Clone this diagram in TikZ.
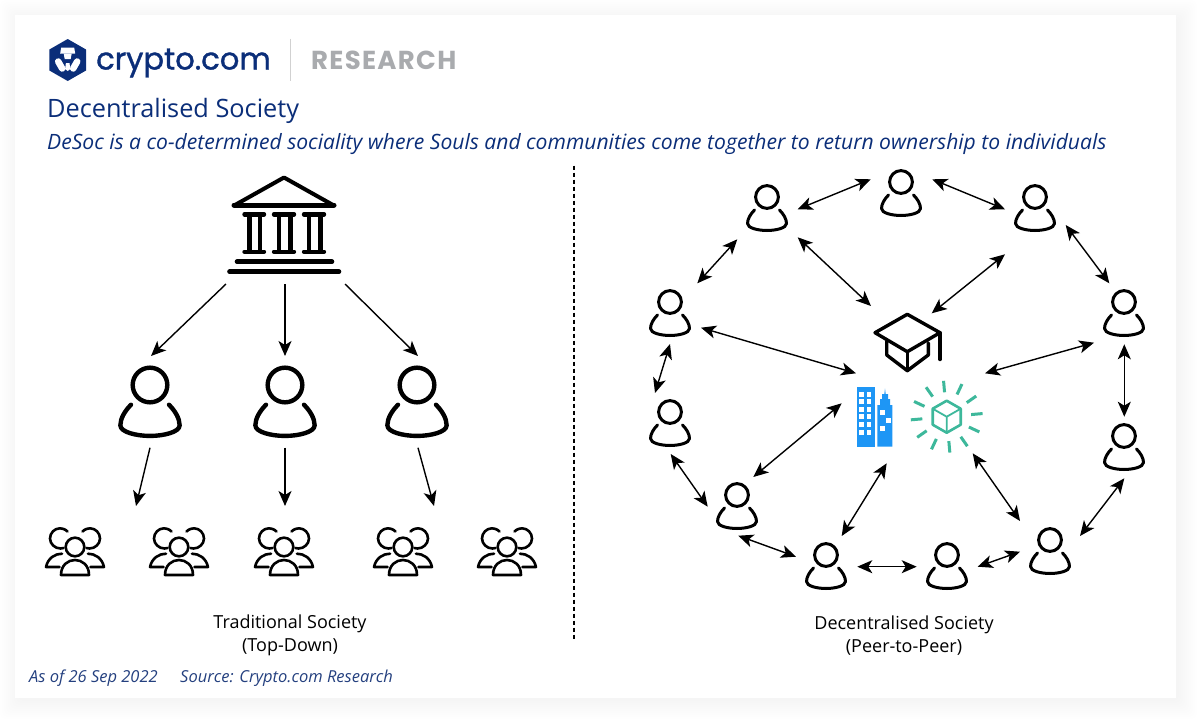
\documentclass[tikz,border=0pt]{standalone}
\usepackage{fontspec}
\usetikzlibrary{arrows.meta}
\setmainfont{Open Sans}
\newfontfamily\logofont[FakeBold=1.2]{Poppins}
\newfontfamily\resfont[LetterSpace=5]{Poppins}
\definecolor{navy}{HTML}{0B2E79}
\definecolor{footnavy}{HTML}{24407F}
\definecolor{resgray}{HTML}{A9ABAE}
\definecolor{towerblue}{HTML}{1E96F5}
\definecolor{hashteal}{HTML}{3DB89B}
\tikzset{
  dbl/.style={line width=1.4pt,{Stealth[length=15pt,width=13pt,inset=4pt]}-{Stealth[length=15pt,width=13pt,inset=4pt]}},
  one/.style={line width=1.4pt,-{Stealth[length=15pt,width=13pt,inset=4pt]}},
  anchorbox/.style={inner sep=0pt,minimum size=1pt},
  icon/.style={line cap=round,line join=round,draw=black},
  caption/.style={font=\fontsize{18}{23}\selectfont,align=center,text=black,inner sep=0pt},
  foot/.style={font=\fontsize{16.5}{18}\selectfont\itshape,text=footnavy,anchor=west,inner sep=0pt},
  window/.style={fill=white,draw=none},
}
% head centre at x,y ; s = scale ; lw = stroke
\newcommand{\personicon}[5]{%
  \node[anchorbox] (#1) at (#2,#3) {};
  \begin{scope}[shift={(#2,#3)},scale=#4,icon,line width=#5]
    \draw (0,0) circle[radius=11.4];
    \draw (-12.5,13) .. controls (-16.5,17) and (-19.5,22) .. (-19.5,26.5)
       .. controls (-19.5,31) and (-9,33.5) .. (0,33.5)
       .. controls (9,33.5) and (19.5,31) .. (19.5,26.5)
       .. controls (19.5,22) and (16.5,17) .. (12.5,13);
  \end{scope}}
% centre head at x,y
\newcommand{\groupicon}[3]{%
  \node[anchorbox] (#1) at (#2,#3) {};
  \begin{scope}[shift={(#2,#3)},icon,line width=2.6pt]
    \draw (0,0) circle[radius=9.3];
    \draw (-7.5,-15.5) .. controls (-10,-18) and (-13,-18.7) .. (-15,-18.7)
       .. controls (-20.5,-18.7) and (-25,-14) .. (-25,-8.5)
       .. controls (-25,-3) and (-20,1.5) .. (-14.5,1.5) -- (-11.5,1);
    \draw (7.5,-15.5) .. controls (10,-18) and (13,-18.7) .. (15,-18.7)
       .. controls (20.5,-18.7) and (25,-14) .. (25,-8.5)
       .. controls (25,-3) and (20,1.5) .. (14.5,1.5) -- (11.5,1);
    \draw (-13,6.7) .. controls (-20,6.7) and (-27,11) .. (-29,20) -- (-15.5,20);
    \draw (13,6.7) .. controls (20,6.7) and (27,11) .. (29,20) -- (15.5,20);
    \draw (-14,28) .. controls (-14,18) and (-7,13) .. (0,13)
       .. controls (7,13) and (14,18) .. (14,28) -- cycle;
  \end{scope}}
\begin{document}
\begin{tikzpicture}[x=1pt,y=-1pt]
\useasboundingbox (0,0) rectangle (1200,723);
\fill[white] (0,0) rectangle (1200,723);
% card shadow
\foreach \d in {18,16,...,0}
  \fill[black,opacity=0.0055,rounded corners=6pt] (15+3-\d,15+3-\d) rectangle (1176+3+\d,698+3+\d);
\fill[white] (15,15) rectangle (1176,698);

% ---------- header
\node[anchorbox] (hex) at (67.7,60) {};
\fill[navy] (67.7,39) -- (86,49.5) -- (86,70.5) -- (67.7,81) -- (49.4,70.5) -- (49.4,49.5) -- cycle;
\begin{scope}[shift={(hex.center)}]
  \fill[white] (-6.5,-12.5) -- (6.5,-12.5) -- (7.5,-6.5) -- (-7.5,-6.5) -- cycle;
  \fill[white] (-4,-6.5) -- (4,-6.5) -- (3,-1) -- (-3,-1) -- cycle;
  \draw[white,line width=6.5pt,line cap=round] (-9.5,1.5) -- (-5.5,8.5);
  \draw[white,line width=6.5pt,line cap=round] (9.5,1.5) -- (5.5,8.5);
  \fill[white] (-1.8,3) -- (1.8,3) -- (2.6,9) -- (0,11) -- (-2.6,9) -- cycle;
\end{scope}
\node[anchor=base west,inner sep=0pt,text=navy,font=\fontsize{30.6}{32}\selectfont\logofont] (logotext) at (96,69.5) {crypto.com};
\node[anchorbox] (divtop) at (290.5,38) {};
\node[anchorbox] (divbot) at (290.5,82) {};
\draw[line width=1pt,draw=black!18] (divtop) -- (divbot);
\node[anchor=base west,inner sep=0pt,text=resgray,font=\fontsize{26}{27}\selectfont\resfont\bfseries] (research) at (311,69) {RESEARCH};
\node[anchor=base west,inner sep=0pt,text=navy,font=\fontsize{25.3}{27}\selectfont] (title) at (47,117) {Decentralised Society};
\node[anchor=base west,inner sep=0pt,text=navy,font=\fontsize{21.1}{24}\selectfont\itshape] (subtitle) at (47,149.5) {DeSoc is a co-determined sociality where Souls and communities come together to return ownership to individuals};

% ---------- divider
\node[anchorbox] (dashtop) at (574,165) {};
\node[anchorbox] (dashbot) at (574,641) {};
\draw[line width=1.2pt,dash pattern=on 4pt off 3pt] (dashtop) -- (dashbot);

% ---------- bank
\node[anchorbox] (bank) at (284,225) {};
\begin{scope}[icon,line width=4pt]
  \draw (284,177.5) -- (333,205) -- (235,205) -- cycle;
  \draw[line width=5pt] (234,205) -- (334,205);
  \foreach \a/\b in {244.5/264,274/294,304/324}{
    \draw[line width=4.4pt] (\a,214.3) -- (\b,214.3);
    \draw[line width=4.4pt] (\a,251.7) -- (\b,251.7);
  }
  \foreach \xx in {249.3,260.2,279,290.5,309,320.5}
    \draw[line width=4.4pt,line cap=butt] (\xx,214.3) -- (\xx,251.7);
  \draw[line width=4.6pt] (237,261.7) -- (332,261.7);
  \draw[line width=4.6pt] (229.5,271.7) -- (339,271.7);
\end{scope}

% ---------- left persons and groups
\personicon{la}{150}{385}{1.52}{4.4pt}
\personicon{lb}{285}{385}{1.52}{4.4pt}
\personicon{lc}{417}{385}{1.52}{4.4pt}
\groupicon{ga}{75}{547}
\groupicon{gb}{179}{547}
\groupicon{gc}{284}{547}
\groupicon{gd}{403}{547}
\groupicon{ge}{507}{547}
\draw[one] ([shift={(-58,59)}]bank.center) -- ([shift={(1,-29)}]la.center);
\draw[one] ([shift={(1,59)}]bank.center) -- ([shift={(0,-29)}]lb.center);
\draw[one] ([shift={(61,59)}]bank.center) -- ([shift={(1,-29)}]lc.center);
\draw[one] ([shift={(0,62.7)}]la.center) -- ([shift={(61,-41)}]ga.center);
\draw[one] ([shift={(0,62.7)}]lb.center) -- ([shift={(1,-41)}]gc.center);
\draw[one] ([shift={(1,62.7)}]lc.center) -- ([shift={(31,-41)}]gd.center);

\node[caption] (capl) at (290,635.5) {Traditional Society\\(Top-Down)};
\node[caption] (capr) at (904,635.5) {Decentralised Society\\(Peer-to-Peer)};
\node[foot] (asof) at (29,678) {As of 26 Sep 2022};
\node[foot] (source) at (180,678) {Source: Crypto.com Research};

% ---------- right persons
\personicon{pa}{767}{197}{1}{3pt}
\personicon{pb}{901}{182}{1}{3pt}
\personicon{pc}{1035}{197}{1}{3pt}
\personicon{pd}{1124}{302}{1}{3pt}
\personicon{pe}{1124}{436}{1}{3pt}
\personicon{pf}{1050}{540}{1}{3pt}
\personicon{pg}{947}{555}{1}{3pt}
\personicon{ph}{826}{555}{1}{3pt}
\personicon{pi}{737}{495}{1}{3pt}
\personicon{pj}{670}{412}{1}{3pt}
\personicon{pk}{670}{302}{1}{3pt}

% ---------- graduation cap
\node[anchorbox] (cap) at (907.3,340) {};
\begin{scope}[icon,line width=3.4pt]
  \draw (875,332.7) -- (907.3,314.3) -- (940,332.7) -- (907.3,351.7) -- cycle;
  \draw (886.7,341) -- (886.7,355) -- (907.3,370.7) -- (928.3,355) -- (928.3,343);
  \draw (907.3,351.7) -- (907.3,370.7);
  \draw (940,332.7) -- (940,359.5);
\end{scope}

% ---------- city
\node[anchorbox] (city) at (874.5,417) {};
\fill[towerblue] (856.7,387.3) rectangle (875,446.7);
\fill[towerblue] (877.3,446.7) -- (877.3,405) -- (880,405) -- (880,399) -- (882,399) -- (882,394) -- (884.3,394) -- (885,388.5) -- (885.7,394) -- (888,394) -- (888,399) -- (890,399) -- (890,405) -- (892.3,405) -- (892.3,446.7) -- cycle;
\foreach \yy in {394.3,401.7,409.3,416.7,424.3,432.3}{
  \fill[window] (859.3,\yy-2.3) rectangle +(4.7,4.7);
  \fill[window] (866.6,\yy-2.3) rectangle +(4.7,4.7);
}
\fill[window] (880,410) rectangle +(5,5);
\fill[window] (885.6,417.7) rectangle +(5,5);
\fill[window] (880,425.5) rectangle +(5,5);

% ---------- hash cube
\node[anchorbox] (hash) at (946.7,416.7) {};
\begin{scope}[shift={(hash.center)},draw=hashteal,line join=round]
  \draw[line width=2.6pt] (0,-16) -- (14,-8) -- (14,8) -- (0,16) -- (-14,8) -- (-14,-8) -- cycle;
  \draw[line width=1.8pt] (-14,-8) -- (0,0) -- (14,-8) (0,0) -- (0,16);
  \foreach \ang in {-95,-65,...,235}
    \draw[line width=3pt] (\ang:24.5) -- (\ang:36);
\end{scope}

% ---------- right arrows (ends relative to the named icons)
\draw[dbl] ([shift={(30.7,12.3)}]pa.center) -- ([shift={(-30.3,-2.7)}]pb.center);
\draw[dbl] ([shift={(31.3,-2.7)}]pb.center) -- ([shift={(-30,12.3)}]pc.center);
\draw[dbl] ([shift={(30.7,28)}]pc.center) -- ([shift={(-14.7,-18.7)}]pd.center);
\draw[dbl] ([shift={(0.3,42.3)}]pd.center) -- ([shift={(0.3,-19.3)}]pe.center);
\draw[dbl] ([shift={(0.3,42.3)}]pe.center) -- ([shift={(30,-4)}]pf.center);
\draw[dbl] ([shift={(-30,11.7)}]pf.center) -- ([shift={(30.7,11.7)}]pg.center);
\draw[dbl] ([shift={(-30.3,11.7)}]pg.center) -- ([shift={(31.3,11.7)}]ph.center);
\draw[dbl] ([shift={(-30,1.7)}]ph.center) -- ([shift={(1.3,40.7)}]pi.center);
\draw[dbl] ([shift={(-29.3,11.7)}]pi.center) -- ([shift={(0.7,42)}]pj.center);
\draw[dbl] ([shift={(-15,-19)}]pj.center) -- ([shift={(0,42)}]pk.center);
\draw[dbl] ([shift={(27.3,-18.7)}]pk.center) -- ([shift={(-29.7,42.3)}]pa.center);
\draw[dbl] ([shift={(30.7,40.3)}]pa.center) -- ([shift={(-36.3,-34)}]cap.center);
\draw[dbl] ([shift={(31,25.7)}]pk.center) -- ([shift={(-18.5,-43.7)}]city.center);
\draw[dbl] ([shift={(24.4,-26.7)}]cap.center) -- ([shift={(-30,57.3)}]pc.center);
\draw[dbl] ([shift={(77.7,33.3)}]cap.center) -- ([shift={(-30,40.7)}]pd.center);
\draw[dbl] ([shift={(15.7,-19)}]ph.center) -- ([shift={(12.2,46.3)}]city.center);
\draw[dbl] ([shift={(16.3,-18)}]pi.center) -- ([shift={(-32.8,-13.7)}]city.center);
\draw[dbl] ([shift={(26,36.6)}]hash.center) -- ([shift={(-30,-19)}]pf.center);
\end{tikzpicture}
\end{document}
